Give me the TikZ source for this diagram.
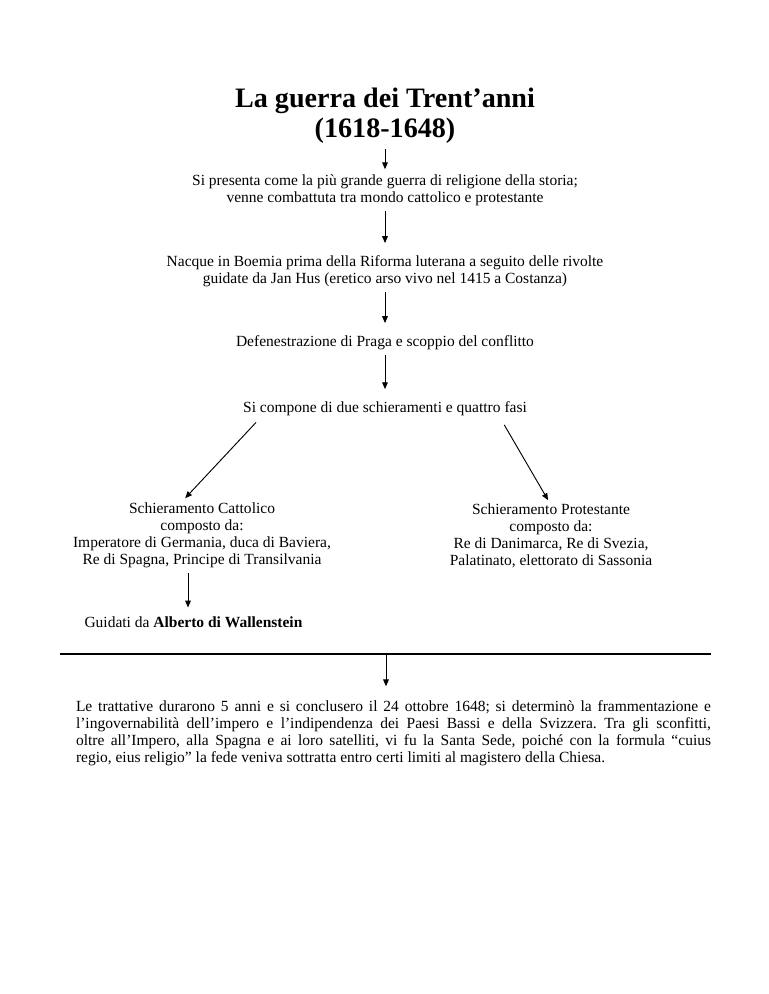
\documentclass[tikz,border=0pt]{standalone}
\usepackage{fontspec}
\setmainfont{Liberation Serif}
\usetikzlibrary{arrows.meta,calc}
\frenchspacing

\begin{document}
\begin{tikzpicture}[x=0.796875bp, y=-0.796875bp,
    testo/.style={align=center, inner sep=1pt, font=\fontsize{12.4}{13.6}\selectfont},
    freccia/.style={-{Triangle[length=5.5pt,width=4.5pt]}, line width=0.75pt, shorten <=3pt, shorten >=9pt}]

    \useasboundingbox (0,0) rectangle (768,994);

    % titolo e catena centrale
    \node [align=center, inner sep=1pt, font=\fontsize{22.5}{24}\selectfont\bfseries]
        (titolo) at (385,116) {La guerra dei Trent’anni\\(1618-1648)};
    \node [testo] (presenta) at (385,190)
        {Si presenta come la più grande guerra di religione della storia;\\venne combattuta tra mondo cattolico e protestante};
    \node [testo] (nacque) at (385,271.5)
        {Nacque in Boemia prima della Riforma luterana a seguito delle rivolte\\guidate da Jan Hus (eretico arso vivo nel 1415 a Costanza)};
    \node [testo] (praga) at (385,343) {Defenestrazione di Praga e scoppio del conflitto};
    \node [testo] (compone) at (385,409) {Si compone di due schieramenti e quattro fasi};

    % i due schieramenti
    \node [testo] (cattolico) at (202,535)
        {Schieramento Cattolico\\composto da:\\Imperatore di Germania, duca di Baviera,\\Re di Spagna, Principe di Transilvania};
    \node [testo] (protestante) at (551,536)
        {Schieramento Protestante\\composto da:\\Re di Danimarca, Re di Svezia,\\Palatinato, elettorato di Sassonia};
    \node [testo, anchor=west] (guidati) at (83,622) {Guidati da \textbf{Alberto di Wallenstein}};

    % pace di Vestfalia
    \draw [line width=2pt] (60,654) -- (711,654);
    \coordinate (snodo) at (386,654);
    \node [testo, text width=506bp, align=justify] (trattative) at (393.5,733)
        {Le trattative durarono 5 anni e si conclusero il 24 ottobre 1648; si determinò la frammentazione e\linebreak
        l’ingovernabilità dell’impero e l’indipendenza dei Paesi Bassi e della Svizzera. Tra gli sconfitti,\linebreak
        oltre all’Impero, alla Spagna e ai loro satelliti, vi fu la Santa Sede, poiché con la formula “cuius\linebreak
        regio, eius religio” la fede veniva sottratta entro certi limiti al magistero della Chiesa.};

    \draw [freccia, shorten >=3pt] (titolo) -- (presenta);
    \draw [freccia] (presenta) -- (nacque);
    \draw [freccia] (nacque) -- (praga);
    \draw [freccia] (praga) -- (compone);
    \draw [freccia, shorten >=3pt] ($(compone.south west)+(17,2)$) -- ($(cattolico.north west)+(111,0)$);
    \draw [freccia, shorten >=3pt] ($(compone.south east)+(-26,4)$) -- ($(protestante.north)+(-1,1)$);
    \draw [freccia, shorten >=6pt] (cattolico.south west -| 188,0) -- (guidati.north west -| 188,0);
    \draw [freccia, shorten <=0pt, shorten >=10pt] (snodo) -- (trattative.north -| snodo);
\end{tikzpicture}
\end{document}
